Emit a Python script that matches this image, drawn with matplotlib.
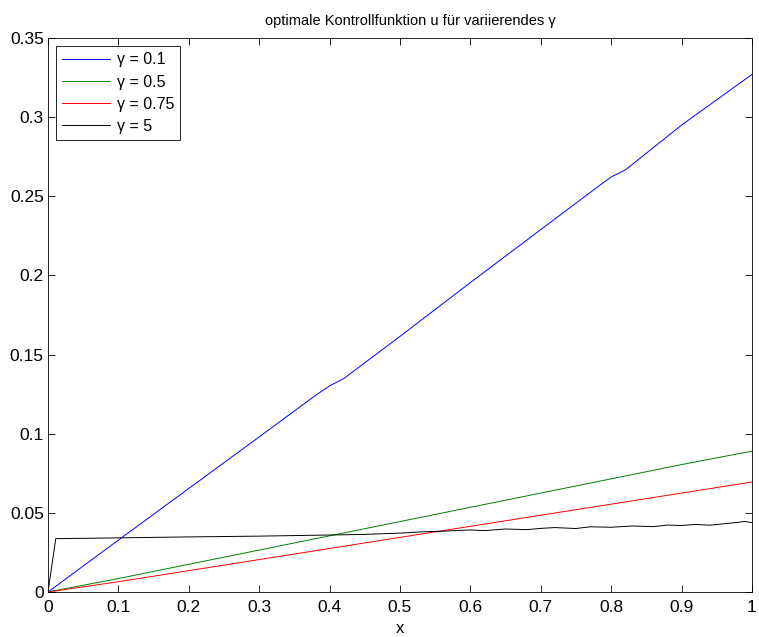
import numpy as np
import matplotlib
matplotlib.use("Agg")
import matplotlib.pyplot as plt
from matplotlib.ticker import FuncFormatter

plt.rcParams['font.family'] = ['Liberation Sans', 'DejaVu Sans']

# gamma = 0.1
x_blue = [0, 0.1, 0.2, 0.3, 0.38, 0.4, 0.42, 0.45, 0.5, 0.6, 0.7, 0.78, 0.8, 0.82, 0.9, 1.0]
y_blue = [0, 0.0328, 0.0654, 0.0980, 0.1242, 0.1302, 0.1348, 0.1448, 0.1615, 0.1955, 0.2290, 0.2557, 0.2622, 0.2666, 0.2950, 0.3270]

# gamma = 0.5
x_green = [0, 0.1, 0.2, 0.3, 0.4, 0.5, 0.6, 0.7, 0.8, 0.9, 1.0]
y_green = [0, 0.0085, 0.0175, 0.0265, 0.0355, 0.0445, 0.0535, 0.0625, 0.0715, 0.0805, 0.089]

# gamma = 0.75
x_red = [0, 0.1, 0.2, 0.3, 0.4, 0.5, 0.6, 0.7, 0.8, 0.9, 1.0]
y_red = [0, 0.0065, 0.0135, 0.0205, 0.0275, 0.0345, 0.0415, 0.0485, 0.0555, 0.0625, 0.0695]

# gamma = 5
x_black = [0, 0.011, 0.1, 0.2, 0.3, 0.4, 0.45, 0.5, 0.53, 0.56, 0.6, 0.62, 0.65, 0.68,
           0.7, 0.72, 0.75, 0.77, 0.8, 0.83, 0.86, 0.88, 0.9, 0.92, 0.94, 0.96, 0.98, 0.99, 1.0]
y_black = [0, 0.0337, 0.0342, 0.0348, 0.0353, 0.0360, 0.0364, 0.0372, 0.0380, 0.0384, 0.0392, 0.0388,
           0.0398, 0.0394, 0.0402, 0.0407, 0.0401, 0.0412, 0.0409, 0.0417, 0.0413, 0.0423, 0.0420,
           0.0427, 0.0422, 0.0431, 0.0440, 0.0446, 0.0438]

fig = plt.figure(figsize=(7.59, 6.37), dpi=100)
ax = fig.add_axes([48 / 759, 1 - 592 / 637, 704 / 759, 554 / 637])

ax.plot(x_blue, y_blue, color=(0, 0, 1), lw=0.7, label="γ = 0.1")
ax.plot(x_green, y_green, color=(0, 0.5, 0), lw=0.7, label="γ = 0.5")
ax.plot(x_red, y_red, color=(1, 0, 0), lw=0.7, label="γ = 0.75")
ax.plot(x_black, y_black, color="black", lw=0.7, label="γ = 5")

ax.set_xlim(0, 1)
ax.set_ylim(0, 0.35)
ax.set_xticks(np.arange(0, 1.01, 0.1))
ax.set_yticks(np.arange(0, 0.351, 0.05))
fmt = FuncFormatter(lambda v, p: "%g" % round(v, 4))
ax.xaxis.set_major_formatter(fmt)
ax.yaxis.set_major_formatter(fmt)
ax.tick_params(direction="in", top=True, right=True, length=5, width=0.6, labelsize=12.5, pad=3)
ax.tick_params(axis="x", pad=6)
for s in ax.spines.values():
    s.set_linewidth(0.6)

ax.set_title("optimale Kontrollfunktion u für variierendes γ", fontsize=10.5, pad=9, x=0.515)
ax.set_xlabel("x", fontsize=12, labelpad=4)

leg = ax.legend(loc="upper left", fontsize=11.5, fancybox=False, framealpha=1,
                edgecolor="black", handlelength=3.0, borderaxespad=0.5,
                labelspacing=0.45, handletextpad=0.4, borderpad=0.4)
leg.get_frame().set_linewidth(0.6)

fig.savefig("out.png", dpi=100)
